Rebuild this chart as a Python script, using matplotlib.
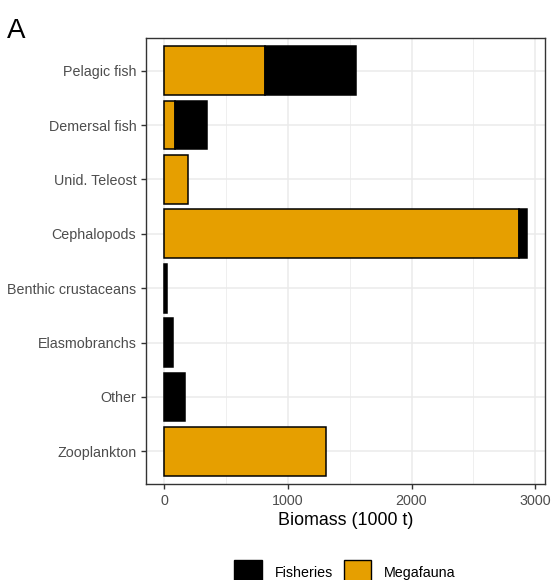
import numpy as np
import matplotlib.pyplot as plt
from matplotlib.patches import Patch

plt.rcParams['font.family'] = ['Liberation Sans', 'DejaVu Sans']

# data (1000 t)
groups = ['Pelagic fish', 'Demersal fish', 'Unid. Teleost', 'Cephalopods',
          'Benthic crustaceans', 'Elasmobranchs', 'Other', 'Zooplankton']
megafauna = [812, 88, 190, 2865, 0, 0, 0, 1307]
fisheries = [738, 259, 0, 67, 27, 69, 171, 0]

col_mega = '#E69F00'
col_fish = '#000000'
grey_txt = '#4D4D4D'

fig = plt.figure(figsize=(5.53, 5.80), dpi=100)
ax = fig.add_axes([0.264, 0.1655, 0.7215, 0.769])

ypos = np.arange(len(groups))[::-1]
mega = np.array(megafauna)
fish = np.array(fisheries)

m = mega > 0
ax.barh(ypos[m], mega[m], height=0.9, color=col_mega, edgecolor='black', linewidth=1.1, zorder=3)
f = fish > 0
ax.barh(ypos[f], fish[f], left=mega[f], height=0.9, color=col_fish, edgecolor='black', linewidth=1.1, zorder=3)

totals = mega + fish
xmax = totals.max()
ax.set_xlim(-0.05 * xmax, xmax * 1.05)
ax.set_ylim(-0.6, len(groups) - 0.4)

ax.set_yticks(ypos)
ax.set_yticklabels(groups)
ax.set_xticks([0, 1000, 2000, 3000])
ax.set_xticks([500, 1500, 2500], minor=True)
ax.tick_params(axis='both', which='major', labelsize=10.3, colors='#333333',
               labelcolor=grey_txt, length=3.5, width=1)
ax.tick_params(axis='x', which='minor', length=0)

ax.grid(True, which='major', color='#EBEBEB', linewidth=1.1, zorder=0)
ax.grid(True, which='minor', axis='x', color='#EBEBEB', linewidth=0.55, zorder=0)
ax.set_axisbelow(True)
for s in ax.spines.values():
    s.set_color('#333333')
    s.set_linewidth(1)

ax.set_xlabel('Biomass (1000 t)', fontsize=12.9, labelpad=3)

fig.text(0.012, 0.935, 'A', fontsize=20)

handles = [Patch(facecolor=col_fish, edgecolor='black', label='Fisheries'),
           Patch(facecolor=col_mega, edgecolor='black', label='Megafauna')]
fig.legend(handles=handles, loc='lower center', bbox_to_anchor=(0.624, -0.03), ncol=2,
           frameon=False, fontsize=10.3, handlelength=1.9, handleheight=2.3,
           columnspacing=0.8, handletextpad=0.9)

fig.savefig('out.png', dpi=100)
